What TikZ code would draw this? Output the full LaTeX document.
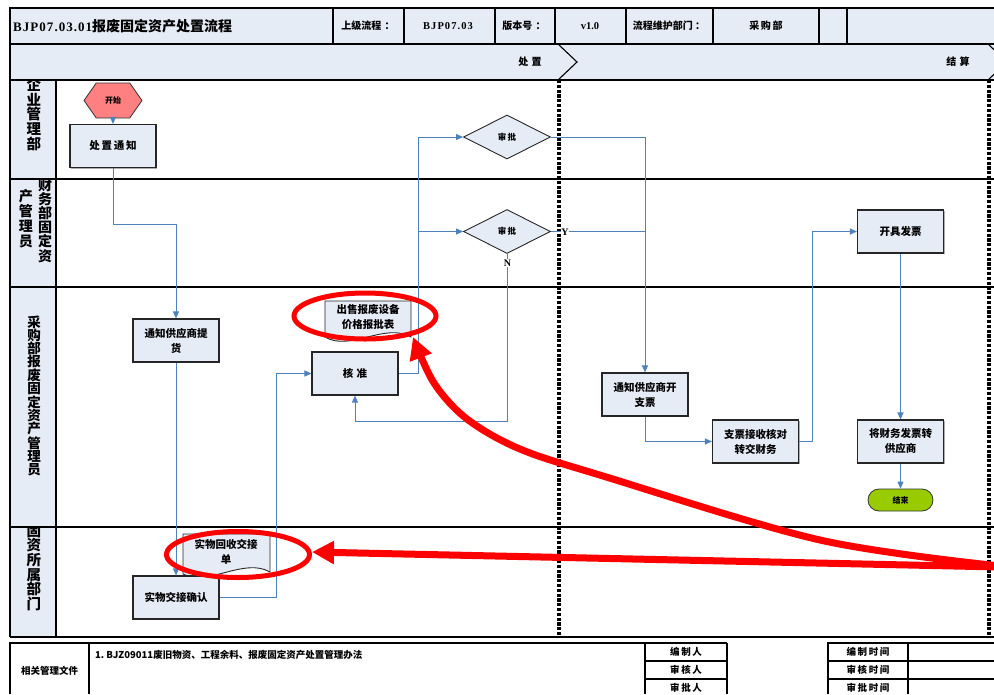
\documentclass[tikz,border=0pt]{standalone}
\usepackage{fontspec}
\setmainfont{Liberation Serif}
\newfontfamily\cjk{Noto Sans CJK SC}
\usetikzlibrary{arrows.meta,shapes.geometric,shapes.symbols,shadows}
\definecolor{boxfill}{RGB}{230,236,246}
\definecolor{connblue}{RGB}{79,129,189}
\definecolor{startpink}{RGB}{255,128,128}
\definecolor{endgreen}{RGB}{153,204,0}
\begin{document}
\begin{tikzpicture}[x=1pt,y=-1pt,
  box/.style={draw=black!85,line width=1.1pt,fill=boxfill,minimum width=86pt,minimum height=43pt,
    text width=80pt,align=center,inner sep=1pt,font=\cjk\bfseries\fontsize{10.5}{15}\selectfont,
    drop shadow={shadow xshift=1.2pt,shadow yshift=-1.2pt,fill=black!45,opacity=0.7}},
  doctext/.style={align=center,inner sep=0pt,font=\cjk\bfseries\fontsize{10.5}{15}\selectfont},
  decision/.style={diamond,draw=black!85,line width=0.9pt,fill=boxfill,minimum width=87pt,minimum height=44pt,
    inner sep=0pt,font=\cjk\bfseries\fontsize{8.5}{10}\selectfont},
  conn/.style={draw=connblue,line width=1pt,-{Triangle[length=7pt,width=6pt]}},
  plainconn/.style={draw=connblue,line width=1pt},
  frame/.style={draw=black,line width=1.1pt},
  hdr/.style={inner sep=0pt,font=\cjk\bfseries\fontsize{10}{12}\selectfont},
  hdrlat/.style={inner sep=0pt,font=\bfseries\fontsize{10.5}{12}\selectfont},
  lanelabel/.style={anchor=north,inner sep=0pt,align=center},
  tbl/.style={inner sep=0pt,font=\cjk\bfseries\fontsize{9.5}{11}\selectfont},
  dotline/.style={draw=black,line width=3.5pt,dash pattern=on 3.2pt off 1.6pt},
  redmark/.style={draw=red,line width=5pt},
  redarrow/.style={draw=red,line width=7pt,-{Triangle[length=22pt,width=22pt]}},
  yn/.style={fill=white,inner sep=0.6pt,font=\bfseries\fontsize{10}{10}\selectfont}
]
\useasboundingbox (0,0) rectangle (994,694);
\clip (0,0) rectangle (994,694);

% ---------- header ----------
\fill[boxfill] (10,8) rectangle (1000,80);
\fill[boxfill] (10,80) rectangle (56,637);
\draw[frame] (1000,8) -- (10,8) -- (10,637);
\draw[frame] (10,44) -- (1000,44);
\foreach \x in {333,404,495,555,626,713,819,847} \draw[frame] (\x,8) -- (\x,44);
\draw[frame] (558,44) -- (577,62) -- (558,80);
\draw[frame] (988,44) -- (1007,62) -- (988,80);

\node[anchor=west,inner sep=0pt] (title) at (13,26)
  {\bfseries\fontsize{13}{14}\selectfont\addfontfeatures{LetterSpace=8}BJP07.03.01{\cjk\fontsize{14}{14}\selectfont 报废固定资产处置流程}};
\node[hdr] (h1) at (368,26) {上级流程\,\,：};
\node[hdrlat] (h2) at (448,26) {\addfontfeatures{LetterSpace=10}BJP07.03};
\node[hdr] (h3) at (524,26) {版本号\,\,：};
\node[hdrlat] (h4) at (590,26) {v1.0};
\node[hdr] (h5) at (669,26) {流程维护部门 ：};
\node[hdr] (h6) at (766,26) {采\,购\,部};
\node[hdr] (ph1) at (530,62) {处\,\,置};
\node[hdr] (ph2) at (958,62) {结\,\,算};

% ---------- lanes ----------
\foreach \y in {80,179,287,527,637} \draw[frame] (10,\y) -- (1000,\y);
\draw[frame] (56,80) -- (56,637);

\begin{scope}
  \clip (10,80) rectangle (56,179);
  \node[lanelabel,font=\cjk\bfseries\fontsize{14.5}{14.6}\selectfont] (lane1) at (34,78) {企\\业\\管\\理\\部};
\end{scope}
\begin{scope}
  \clip (10,179) rectangle (56,287);
  \node[lanelabel,font=\cjk\bfseries\fontsize{14}{14.2}\selectfont] (lane2a) at (45,178) {财\\务\\部\\固\\定\\资};
  \node[lanelabel,font=\cjk\bfseries\fontsize{14}{15}\selectfont] (lane2b) at (26,189) {产\\管\\理\\员};
\end{scope}
\begin{scope}
  \clip (10,287) rectangle (56,527);
  \node[lanelabel,font=\cjk\bfseries\fontsize{13.5}{13}\selectfont] (lane3) at (34,316) {采\\购\\部\\报\\废\\固\\定\\资\\产\\管\\理\\员};
\end{scope}
\begin{scope}
  \clip (10,527) rectangle (56,637);
  \node[lanelabel,font=\cjk\bfseries\fontsize{14.5}{14.7}\selectfont] (lane4) at (34,524) {固\\资\\所\\属\\部\\门};
\end{scope}

% phase separators
\draw[dotline] (559,80) -- (559,637);
\draw[dotline] (989,80) -- (989,637);

% ---------- nodes ----------
\node[signal,signal to=east and west,signal pointer angle=110,draw=black!80,line width=0.8pt,fill=startpink,
  minimum width=58pt,minimum height=35pt,inner sep=0pt,font=\cjk\bfseries\fontsize{8}{9}\selectfont] (start) at (113,100.5) {开始};
\node[box] (notice) at (113,146) {处\,置\,通\,知};
\node[box] (pickup) at (176,340.5) {通知供应商提\\货};

\draw[draw=black!85,line width=0.9pt,fill=boxfill] (325,301) -- (411,301) -- (411,337)
  .. controls (385,322) and (350,352) .. (325,337) -- cycle;
\node[doctext] (doc1) at (368,317) {出售报废设备\\价格报批表};

\node[box] (approve) at (355,373.5) {核\,\,准};
\node[decision] (d1) at (507,137) {审\,批};
\node[decision] (d2) at (507,231.5) {审\,批};

\node[box] (chq) at (645,394.5) {通知供应商开\\支票};
\node[box] (recv) at (755.5,441.5) {支票接收核对\\转交财务};
\node[box] (inv) at (900.5,231.5) {开具发票};
\node[box] (fwd) at (900.5,441.5) {将财务发票转\\供应商};
\node[draw=black!80,line width=0.8pt,fill=endgreen,rounded corners=11pt,minimum width=65pt,minimum height=22pt,
  inner sep=0pt,font=\cjk\bfseries\fontsize{8}{9}\selectfont] (end) at (900.5,500) {结束};

\draw[draw=black!85,line width=0.9pt,fill=boxfill] (183,534) -- (270,534) -- (270,572)
  .. controls (244,557) and (208,587) .. (183,574) -- cycle;
\node[doctext] (doc2) at (226,552) {实物回收交接\\单};
\node[box] (confirm) at (176,597.5) {实物交接确认};

% ---------- connectors ----------
\coordinate (bx) at (418,0);
\draw[conn] (start) -- (notice);
\draw[conn] (notice.south) -- ++(0,56) -| (pickup.north);
\draw[conn] (pickup.south) -- (confirm.north);
\draw[conn] (confirm.east) -- ++(57,0) |- (approve.west);
\draw[conn] (approve.east) -- (bx |- approve.east) |- (d1.west);
\draw[conn] (bx |- d2.west) -- (d2.west);
\draw[conn] (d1.east) -| (chq.north);
\draw[plainconn] (d2.east) -- (chq.north |- d2.east);
\draw[conn] (d2.south) -- ++(0,168) -| (approve.south);
\draw[conn] (chq.south) |- (recv.west);
\draw[conn] (recv.east) -- ++(13,0) |- (inv.west);
\draw[conn] (inv.south) -- (fwd.north);
\draw[conn] (fwd.south) -- (end.north);
\node[yn] (ylab) at (565,232) {Y};
\node[yn] (nlab) at (507.5,263) {N};

% ---------- bottom table ----------
\draw[frame] (10,694) -- (10,643) -- (727,643);
\draw[frame] (89,643) -- (89,694);
\draw[frame] (645,643) -- (645,694);
\draw[frame] (727,643) -- (727,694);
\draw[frame] (645,661) -- (727,661);
\draw[frame] (645,679) -- (727,679);
\draw[frame] (828,694) -- (828,643) -- (1000,643);
\draw[frame] (908,643) -- (908,694);
\draw[frame] (828,661) -- (1000,661);
\draw[frame] (828,679) -- (1000,679);
\node[tbl] (t0) at (49.5,671) {相关管理文件};
\node[tbl,anchor=west] (t1) at (95,655) {1.\ BJZ09011废旧物资、工程余料、报废固定资产处置管理办法};
\node[tbl] (t2) at (686,652) {编\,制\,人};
\node[tbl] (t3) at (686,670) {审\,核\,人};
\node[tbl] (t4) at (686,688) {审\,批\,人};
\node[tbl] (t5) at (868,652) {编\,制\,时\,间};
\node[tbl] (t6) at (868,670) {审\,核\,时\,间};
\node[tbl] (t7) at (868,688) {审\,批\,时\,间};

% ---------- red annotations ----------
\draw[redmark] (doc1) ++(-3,-1) ellipse [x radius=71pt,y radius=23pt];
\draw[redmark] (doc2) ++(12,2.5) ellipse [x radius=71.5pt,y radius=23pt];
\coordinate (rsrc) at (1000,567);
\coordinate (rtip) at (413,337);
\draw[redarrow] (rsrc) -- (doc2.east -| 312,555);
\draw[redarrow] plot[smooth,tension=0.55] coordinates {(1000,566) (820,540) (603,476) (520,449) (467,419) (434,383) (rtip)};
\end{tikzpicture}
\end{document}
